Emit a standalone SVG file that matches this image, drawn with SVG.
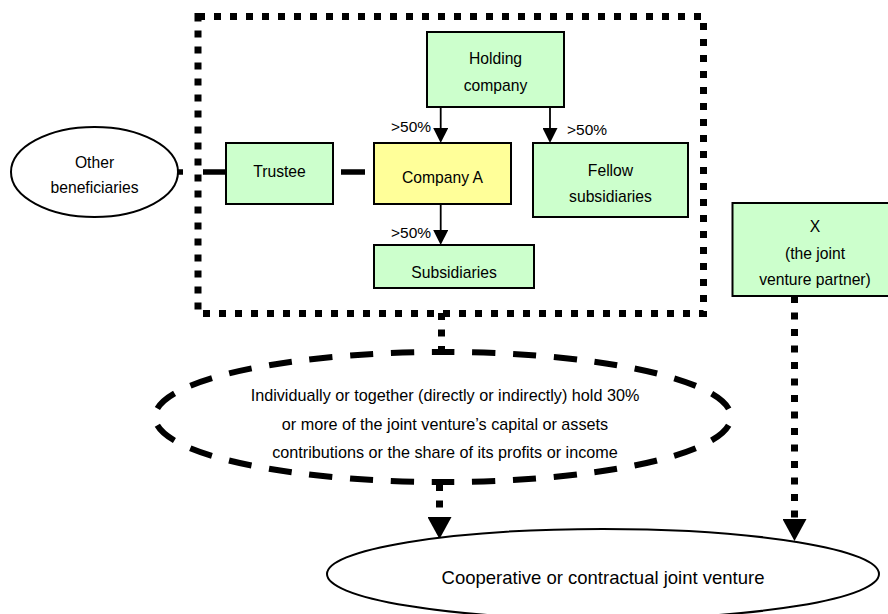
<svg xmlns="http://www.w3.org/2000/svg" width="888" height="614" viewBox="0 0 888 614">
<style>
  .box { stroke: #000; stroke-width: 2; }
  .g { fill: #CCFFCC; }
  .y { fill: #FFFF99; }
  .t { font-family: "Liberation Sans", Arial, sans-serif; font-size: 15.7px; fill: #000; text-anchor: middle; }
  .lbl { font-family: "Liberation Sans", Arial, sans-serif; font-size: 15.5px; fill: #000; }
  .solid { stroke: #000; stroke-width: 1.8; fill: none; }
  .dot { stroke: #000; stroke-width: 7; stroke-dasharray: 7 9.5; fill: none; }
  .thick { stroke: #000; stroke-width: 5.5; fill: none; }
</style>
<defs>
  <marker id="aS" markerUnits="userSpaceOnUse" markerWidth="15" markerHeight="15" refX="0" refY="7.5" orient="auto">
    <path d="M0,0 L15,7.5 L0,15 Z" fill="#000"/>
  </marker>
  <marker id="aB" markerUnits="userSpaceOnUse" markerWidth="22" markerHeight="24" refX="0" refY="12" orient="auto">
    <path d="M0,0 L22,12 L0,24 Z" fill="#000"/>
  </marker>
</defs>
<rect width="888" height="614" fill="#fff"/>

<g id="group-box">
  <rect x="198" y="16.5" width="505.5" height="297" fill="none" stroke="#000" stroke-width="7" stroke-dasharray="7 9"/>
</g>

<g id="connectors">
  <path class="solid" d="M440.7,107 V128" marker-end="url(#aS)"/>
  <path class="solid" d="M550,107 V128" marker-end="url(#aS)"/>
  <path class="solid" d="M440.7,204 V230" marker-end="url(#aS)"/>
  <path class="thick" d="M226,172 H178" stroke-dasharray="23 20 5 100"/>
  <path class="thick" d="M333,172 H374" stroke-dasharray="0 8 24 100"/>
  <path class="dot" d="M441.5,313 V352"/>
  <path class="dot" d="M439.5,484 V517" marker-end="url(#aB)"/>
  <path class="dot" d="M794.5,296 V519" marker-end="url(#aB)"/>
</g>

<g id="other-beneficiaries">
  <ellipse cx="94.5" cy="172" rx="83.5" ry="45" fill="#fff" stroke="#000" stroke-width="2"/>
  <text class="t" x="94.5" y="167.7">Other</text>
  <text class="t" x="94.5" y="193.3">beneficiaries</text>
</g>

<g id="holding-company">
  <rect class="box g" x="427" y="32" width="137" height="75"/>
  <text class="t" x="495.5" y="64.3">Holding</text>
  <text class="t" x="495.5" y="91">company</text>
</g>

<g id="trustee">
  <rect class="box g" x="226" y="143" width="107" height="61"/>
  <text class="t" x="279.5" y="176.5">Trustee</text>
</g>

<g id="company-a">
  <rect class="box y" x="374" y="143" width="137" height="61"/>
  <text class="t" x="442.5" y="182.7">Company A</text>
</g>

<g id="fellow-subsidiaries">
  <rect class="box g" x="533" y="143" width="155" height="74"/>
  <text class="t" x="610.5" y="175.7">Fellow</text>
  <text class="t" x="610.5" y="202.3">subsidiaries</text>
</g>

<g id="subsidiaries">
  <rect class="box g" x="374" y="245" width="160" height="43"/>
  <text class="t" x="454" y="277.7">Subsidiaries</text>
</g>

<g id="x-partner">
  <rect class="box g" x="732.5" y="203" width="165" height="93"/>
  <text class="t" x="815" y="232.3">X</text>
  <text class="t" x="815" y="258.7">(the joint</text>
  <text class="t" x="815" y="285">venture partner)</text>
</g>

<g id="labels">
  <text class="lbl" x="391" y="131.7">&gt;50%</text>
  <text class="lbl" x="567" y="135">&gt;50%</text>
  <text class="lbl" x="391" y="237.7">&gt;50%</text>
</g>

<g id="holding-condition">
  <ellipse cx="443" cy="417" rx="288" ry="65" fill="none" stroke="#000" stroke-width="6" stroke-dasharray="23 17.75" stroke-dashoffset="31.95"/>
  <text class="t" style="font-size:16.2px" x="445" y="401">Individually or together (directly or indirectly) hold 30%</text>
  <text class="t" style="font-size:16.2px" x="445" y="430">or more of the joint venture’s capital or assets</text>
  <text class="t" style="font-size:16.2px" x="445" y="458">contributions or the share of its profits or income</text>
</g>

<g id="joint-venture">
  <ellipse cx="603" cy="574" rx="276" ry="45" fill="#fff" stroke="#000" stroke-width="2"/>
  <text class="t" style="font-size:18.5px" x="603" y="584">Cooperative or contractual joint venture</text>
</g>
</svg>
